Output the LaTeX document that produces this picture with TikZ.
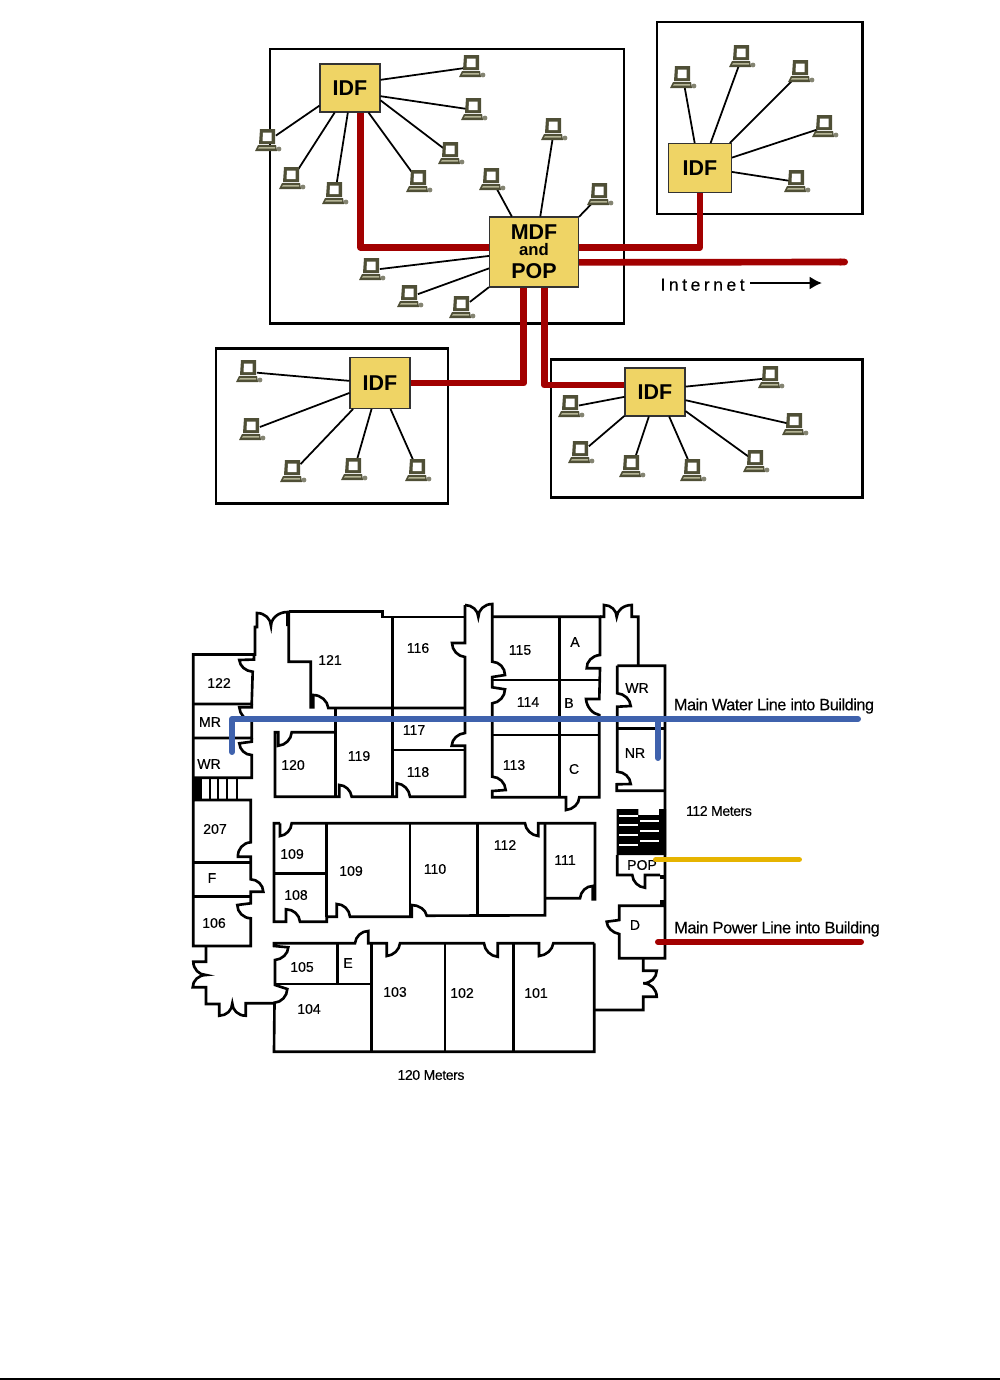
\documentclass[tikz,border=0pt]{standalone}
\usepackage{fontspec}
\setmainfont{Liberation Sans}
\newfontfamily\annofont[FakeBold=0.25,LetterSpace=-3]{Liberation Sans}
\newfontfamily\roomfont[FakeBold=0.3]{Liberation Sans}
\newfontfamily\inetfont[FakeBold=0.2,LetterSpace=20]{Liberation Sans}
\usetikzlibrary{positioning,calc,arrows.meta}

\definecolor{hubyellow}{HTML}{EFD465}
\definecolor{linkred}{HTML}{A20000}
\definecolor{waterblue}{HTML}{3F62AD}
\definecolor{popyellow}{HTML}{E6B400}
\definecolor{pcdark}{HTML}{4F4F36}
\definecolor{pclight}{HTML}{B5B596}

\tikzset{
	site/.style={draw=black, line width=1.7pt},
	hub/.style={draw=black!80, line width=0.6pt, fill=hubyellow, inner sep=0pt, font=\bfseries\fontsize{12.2}{12.2}\selectfont},
	pcnode/.style={minimum size=0.3cm, inner sep=0pt},
	lan/.style={draw=black, line width=1pt},
	uplink/.style={draw=linkred, line width=3.8pt, line join=round},
	wall/.style={draw=black, line width=1.5pt, line join=miter},
	swing/.style={to path={.. controls ($(\tikztostart)!0.55!#1$) and ($(\tikztotarget)!0.55!#1$) .. (\tikztotarget)}},
	roomtext/.style={inner sep=0pt, font=\roomfont\fontsize{8}{9}\selectfont},
	annotext/.style={inner sep=0pt, font=\annofont\fontsize{9.3}{10}\selectfont},
	water/.style={draw=waterblue, line width=3.4pt, line cap=round, line join=round},
}

% computer icon, drawn on a node centre
\newcommand{\pcicon}[1]{
	\begin{scope}[shift={(#1)}]
		\fill[pcdark] (-8,-12) -- (7,-12) -- (7,3) -- (-9,3) -- cycle;
		\fill[white] (-5,-8.5) -- (3.5,-8.5) -- (3.5,0) -- (-5.5,0) -- cycle;
		\fill[pcdark] (-10,4) -- (8,4) -- (9,10) -- (-13,10) -- cycle;
		\fill[pclight] (-9,6) -- (7,6) -- (7,7.5) -- (-10,7.5) -- cycle;
		\fill[pcdark!70] (11,8) circle (2.4);
	\end{scope}
}

\begin{document}
\begin{tikzpicture}[x=0.02cm, y=-0.02cm]
	\useasboundingbox (0,0) rectangle (1000,1380);

	% site boxes
	\draw[site] (270,49) rectangle (624,323);
	\draw[site] (657,22) rectangle (862,214);
	\draw[site] (216,348) rectangle (448,503);
	\draw[site] (551,359) rectangle (862,497);

	% distribution frames
	\node[hub, minimum width=1.2cm, minimum height=0.96cm] (idfa) at (350,88) {IDF};
	\node[hub, minimum width=1.26cm, minimum height=0.98cm] (idfb) at (700,168) {IDF};
	\node[hub, minimum width=1.2cm, minimum height=1.02cm] (idfc) at (380,383) {IDF};
	\node[hub, minimum width=1.2cm, minimum height=0.96cm] (idfd) at (655,392) {IDF};
	\node[hub, minimum width=1.78cm, minimum height=1.4cm, align=center] (mdf) at (534,252) {MDF\\[-3pt]{\fontsize{9.5}{9.5}\selectfont and}\\[1pt]POP};

	% links between frames
	\coordinate (inet) at (848,262);
	\draw[uplink] (idfa.-67) |- (mdf.174);
	\draw[uplink] (mdf.6) -| (idfb.south);
	\draw[uplink, -{Round Cap[]}] (mdf.-13) -- (inet);
	\draw[uplink] (mdf.-106) |- (idfc.east);
	\draw[uplink] (mdf.-74) |- (idfd.167);

	% computers
	\foreach \pc/\x/\y/\hubname/\ang in {
		pca1/472/67/idfa/15, pca2/474/110/idfa/-15, pca3/451/154/idfa/-22, pca4/419/182/idfa/-53,
		pca5/335/194/idfa/-95, pca6/292/179/idfa/-122, pca7/268/141/idfa/-150,
		pcb1/683/78/idfb/102, pcb2/742/57/idfb/67, pcb3/801/72/idfb/40, pcb4/825/127/idfb/18, pcb5/797/182/idfb/-7,
		pcm1/492/180/mdf/122, pcm2/554/130/mdf/80, pcm3/600/195/mdf/38, pcm4/372/270/mdf/185, pcm5/410/297/mdf/200, pcm6/462/308/mdf/218,
		pcc1/249/372/idfc/176, pcc2/252/430/idfc/198, pcc3/293/472/idfc/224, pcc4/354/470/idfc/252, pcc5/418/471/idfc/292,
		pcd1/571/407/idfd/189, pcd2/581/453/idfd/218, pcd3/632/467/idfd/256, pcd4/693/471/idfd/300, pcd5/756/462/idfd/328, pcd6/795/425/idfd/345, pcd7/771/378/idfd/10}
	{
		\node[pcnode] (\pc) at (\x,\y) {};
		\draw[lan] (\pc) -- (\hubname.\ang);
		\pcicon{\pc}
	}

	% internet label and arrow
	\coordinate (inetend) at (822,283);
	\node[inner sep=0pt, inner xsep=0.1cm, left=1.44cm of inetend, yshift=-1pt, font=\inetfont\fontsize{10}{10}\selectfont] (inetlabel) {Internet};
	\draw[line width=1.5pt, -{Latex[length=7pt,width=7.5pt]}] (inetlabel.east |- inetend) -- (inetend);

	% west column of the floor plan
	\draw[wall] (287.5,626) -- (287.5,612) to[swing={(271,612)}] (271,626) to[swing={(271,613)}] (257,613) -- (257,627) -- (255,627) -- (255,654.5) -- (193.3,654.5) -- (193.3,946) -- (250.7,946) -- (250.7,918.3) to[swing={(237.3,918)}] (237.3,905) -- (250.7,903.3) -- (250.7,891.7) -- (263.3,891.7) to[swing={(263,879.5)}] (250.7,879.3) -- (250.7,856.7) -- (238,856.7) to[swing={(237,843)}] (250.7,842.3) -- (250.7,800) -- (193.3,800);
	\draw[wall] (254,655) -- (254,659.5) -- (239.3,660) to[swing={(240,671)}] (252.7,671.7) -- (251.7,704) -- (193.3,704);
	\draw[wall] (251.7,704) -- (251.7,707.3) -- (239.3,707.3) to[swing={(240,720)}] (251.7,720.7) -- (251.7,738) -- (193.3,738);
	\draw[wall] (251.7,738) -- (251.7,741.7) -- (239.3,743.3) to[swing={(240,755)}] (251.7,755) -- (251.7,777.7) -- (193.3,777.7);
	\fill[black] (193.3,779) rectangle (201.7,799.3);
	\foreach \x in {210,218.3,226.7,236.7}
		\draw[line width=1pt] (\x,777.7) -- (\x,800);
	\draw[wall] (193.3,862.5) -- (250.7,862.5);
	\draw[wall] (193.3,896.7) -- (250.7,896.7);

	% north rooms
	\draw[wall] (288.7,611.7) -- (288.7,661.7) -- (310.7,661.7) -- (310.7,707.3) -- (313.3,707.3) -- (313.3,695) to[swing={(327,695)}] (328.3,708) -- (465,708);
	\draw[wall] (288.7,611.7) -- (382.7,611.7) -- (382.7,617) -- (465,617);
	\draw[wall] (392.7,617) -- (392.7,796.7);
	\draw[wall] (465,605) -- (465,643) -- (452,643) to[swing={(452,656)}] (465,657) -- (465,733) to[swing={(452,734)}] (451.7,745.7) -- (465,745.7) -- (465,796.7) -- (410,796.7) to[swing={(409,784)}] (396.7,783.3) -- (396.7,796.7) -- (351.7,796.7) to[swing={(350,785)}] (339.3,785) -- (339.3,796.7) -- (275,796.7) -- (275,732.3) -- (278.3,732.3) -- (278.3,745.7) to[swing={(291,745)}] (291.7,732.3) -- (335.7,732.3);
	\draw[wall] (335.7,708) -- (335.7,796.7);
	\draw[wall] (392.7,750) -- (465,750);
	\draw[wall] (465,605) to[swing={(478,605)}] (478.3,617) to[swing={(478,604)}] (492.3,604) -- (492.3,661.7) to[swing={(505,662)}] (505,675) -- (492.3,677) -- (492.3,680);
	\draw[wall] (492.3,680) -- (492.3,687.3) -- (505,689.3) to[swing={(505,702)}] (492.3,703.3) -- (492.3,776.7) to[swing={(505,777)}] (505.7,790) -- (492.3,791) -- (492.3,797.3) -- (566,797.3) -- (566,810) to[swing={(579,809)}] (579.3,797.3) -- (599.3,797.3) -- (599.3,715) to[swing={(587,713)}] (586,699) -- (599.3,699) -- (600,668.3) -- (586.7,668.3) to[swing={(586,656)}] (600,655) -- (600,616.7) -- (492.3,616.7);
	\draw[wall] (492.3,680) -- (599.3,680);
	\draw[wall] (492.3,735) -- (599.3,735);
	\draw[wall] (559.3,616.7) -- (559.3,797.3);
	\draw[wall] (600,616.7) -- (604,616.7) -- (604,605) to[swing={(616.7,605)}] (616.7,617) to[swing={(617,605)}] (631.7,605) -- (631.7,616.7) -- (638.3,616.7) -- (638.3,665.7);

	% east block
	\draw[wall] (617.3,665.7) -- (665,665.7) -- (665,958.3) -- (619.3,958.3) -- (619.3,934) to[swing={(607,932)}] (606.7,921.7) -- (619.3,920) -- (619.3,905.7) -- (665,905.7);
	\draw[wall] (617.3,665.7) -- (617.3,693.3) to[swing={(630,694)}] (630.7,706) -- (617.3,706.7) -- (617.3,771.7) to[swing={(630,772)}] (630.7,784) -- (616.7,784.3) -- (616.7,790.7) -- (665,790.7);
	\draw[wall] (617.3,728.3) -- (665,728.3);
	\fill[black] (616.5,809) -- (638.3,809) -- (638.3,815) -- (659,815) -- (659,809) -- (666,809) -- (666,855) -- (616.5,855) -- cycle;
	\foreach \y in {816,825,835,845}
		\fill[white] (619.3,\y-1.2) rectangle (637.7,\y+1.2);
	\foreach \y in {820.7,830.7,840.7}
		\fill[white] (640,\y-1.2) rectangle (659,\y+1.2);
	\draw[wall] (617.3,855) -- (617.3,875) -- (632.3,875) to[swing={(633,887)}] (645,887.7) -- (645,875) -- (660,875);
	\fill[black] (660,875) rectangle (665,879);
	\fill[black] (660,900) rectangle (665,905);
	\draw[wall] (643.3,958.3) -- (643.3,970.7) -- (656.7,970.7) to[swing={(656.7,983.3)}] (643.3,983.3) to[swing={(656.7,983.3)}] (656.7,996.7) -- (643.3,996.7) -- (643.3,1010) -- (594.3,1010);

	% south rooms
	\draw[wall] (594.3,943.3) -- (594.3,1051.7) -- (274,1051.7) -- (274.5,1002.7) to[swing={(287,1002)}] (287.3,989) -- (275,985) -- (275,960) to[swing={(288,959)}] (288.3,947.3) -- (274,946) -- (274,943.3) -- (355,943.3) to[swing={(356,931)}] (368.3,931) -- (368.3,943.3) -- (386.7,943.3) -- (386.7,956) to[swing={(399,955)}] (400,943.3) -- (484,943.3) to[swing={(485,956)}] (497.7,956.7) -- (497.7,943.3) -- (539,943.3) -- (539,956) to[swing={(552,955)}] (553.3,943.3) -- (594.3,943.3);
	\draw[wall] (275,984) -- (371.7,984);
	\draw[wall] (337.3,943.3) -- (337.3,984);
	\draw[wall] (371.7,943.3) -- (371.7,1051.7);
	\draw[wall] (445,943.3) -- (445,1051.7);
	\draw[wall] (513.3,943.3) -- (513.3,1051.7);
	\draw[wall] (275,1003.3) -- (245.7,1003.3) -- (245.7,1015.7) to[swing={(232.3,1015.7)}] (232.3,1003.3) to[swing={(232.3,1015.7)}] (219.3,1015.7) -- (219.3,1004) -- (206,1004) -- (206,987.3) -- (192.7,987.3) to[swing={(192.7,975)}] (206,975) to[swing={(193.3,975)}] (193.3,961.7) -- (206,961.7) -- (206,946);

	% middle rooms
	\draw[wall] (274,873.3) -- (326.7,873.3);
	\draw[wall] (280,823.3) -- (280,836) to[swing={(291,835)}] (291.7,823.3) -- (525,823.3) to[swing={(526,835)}] (538.3,836) -- (538.3,823.3) -- (595,823.3) -- (595,899.3) -- (592.7,899.3) -- (592.7,886) to[swing={(581,886)}] (580,898.3) -- (545,898.3);
	\draw[wall] (280,823.3) -- (274,823.3) -- (274,921.7) -- (286,921.7) -- (286,909.3) to[swing={(299,909)}] (300,921.7) -- (326.7,921.7) -- (326.7,916.7) -- (336.7,916.7) -- (336.7,904) to[swing={(349,904)}] (350,916.7) -- (411.7,916.7) -- (411.7,905) to[swing={(425,905)}] (426.7,915.7) -- (545,915.3) -- (545,823.3);
	\draw[wall] (326.7,823.3) -- (326.7,916.7);
	\draw[wall] (410,823.3) -- (410,916.7);
	\draw[wall] (477.7,823.3) -- (477.7,915.7);

	% room names
	\foreach \txt/\x/\y [count=\i] in {
		121/330/660, 116/418/648, 122/219/683, MR/210/722, WR/209/764, 120/293/765, 119/359/756, 117/414/730,
		118/418/772, 115/520/650, A/575/642, 114/528/702, B/569/703, 113/514/765, C/574/769, WR/637/688,
		NR/635/753, 207/215/829, 109/292/854, 109/351/871, 110/435/869, 112/505/845, 111/565/860, POP/642/865,
		F/212/878, 108/296/895, 106/214/923, D/635/925, 105/302/967, E/348/963, 103/395/992, 102/462/993,
		101/536/993, 104/309/1009}
		\node[roomtext] (room\i) at (\x,\y) {\txt};

	% service lines
	\coordinate (waterwest) at (232,752);
	\coordinate (waternr) at (658,758);
	\coordinate (waterend) at (858,719);
	\coordinate (popend) at (799,859.5);
	\coordinate (popstart) at (656,859.5);
	\coordinate (powerstart) at (658,942);
	\coordinate (powerend) at (861,942);
	\draw[water] (waterwest) |- (waterend);
	\draw[water] (waternr) -- (waternr |- waterend);
	\draw[line width=3.4pt, draw=popyellow, line cap=round] (popstart) -- (popend);
	\draw[line width=3.4pt, draw=linkred, line cap=round] (powerstart) -- (powerend);

	% notes
	\node[annotext] (waternote) at (774,706) {Main Water Line into Building};
	\node[annotext, font=\annofont\fontsize{9.4}{10}\selectfont] (powernote) at (777,929) {Main Power Line into Building};
	\node[annotext, font=\annofont\fontsize{8}{9}\selectfont] (northsouth) at (719,811) {112 Meters};
	\node[annotext, font=\annofont\fontsize{8}{9}\selectfont] (eastwest) at (431,1075) {120 Meters};

	% rule at the foot of the page
	\coordinate (ruleleft) at (0,1379);
	\coordinate (ruleright) at (1000,1379);
	\draw[line width=1.2pt] (ruleleft) -- (ruleright);
\end{tikzpicture}
\end{document}
